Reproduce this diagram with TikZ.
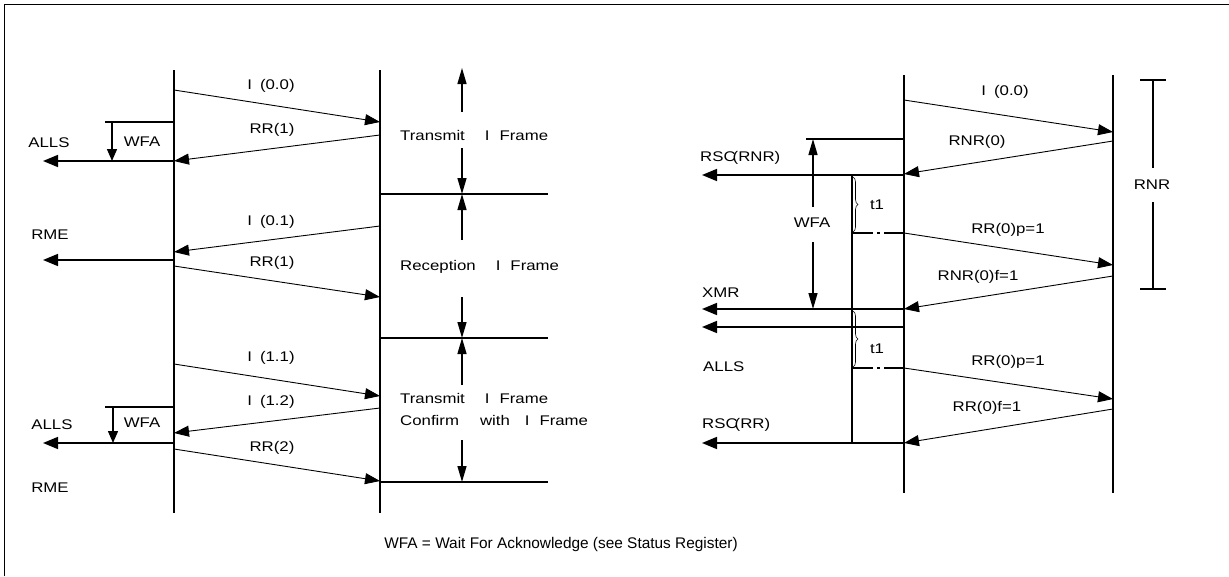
\documentclass[tikz,border=0pt]{standalone}
\usepackage{fontspec}
\setmainfont{Liberation Sans}
\newfontfamily\labf[FakeStretch=1.2]{Liberation Sans}
\usetikzlibrary{arrows.meta,decorations.pathreplacing}
\begin{document}
\begin{tikzpicture}[x=1pt,y=-1pt,
  life/.style={line width=1.6pt},
  msg/.style={line width=0.9pt,-{Triangle[length=15pt,width=11pt]}},
  sig/.style={line width=1.6pt,-{Triangle[length=15pt,width=12pt]}},
  bar/.style={line width=1.4pt},
  varr/.style={line width=1.4pt,-{Triangle[length=16pt,width=9pt]}},
  sarr/.style={line width=1.4pt,-{Triangle[length=12pt,width=10pt]}},
  brc/.style={decorate,decoration={brace,amplitude=5pt},line width=0.6pt},
  dd/.style={line width=1.4pt,dash pattern=on 21pt off 4pt on 3pt off 4pt on 30pt},
  lab/.style={font=\labf\fontsize{14}{16}\selectfont,inner sep=0pt},
  foot/.style={font=\fontsize{15.4}{17}\selectfont,inner sep=0pt},
]
\useasboundingbox (0,0) rectangle (1229,576);
% outer frame
\coordinate (fb) at (4.3,576); \coordinate (ftl) at (4.3,4.3); \coordinate (ftr) at (1229,4.3);
\draw[line width=1pt] (fb) -- (ftl) -- (ftr);

% ---------------- left diagram ----------------
\coordinate (A1) at (174,70); \coordinate (A2) at (174,513);
\coordinate (B1) at (380,70); \coordinate (B2) at (380,513);
\draw[life] (A1) -- (A2);
\draw[life] (B1) -- (B2);

\coordinate (a1) at (174,90);  \coordinate (b1) at (380,122);
\coordinate (b2) at (380,135); \coordinate (a2) at (174,161);
\coordinate (b3) at (380,226); \coordinate (a3) at (174,252);
\coordinate (a4) at (174,266); \coordinate (b4) at (380,297);
\coordinate (a5) at (174,364); \coordinate (b5) at (380,396);
\coordinate (b6) at (380,408); \coordinate (a6) at (174,433);
\coordinate (a7) at (174,449); \coordinate (b7) at (380,481);
\draw[msg] (a1) -- (b1);
\draw[msg] (b2) -- (a2);
\draw[msg] (b3) -- (a3);
\draw[msg] (a4) -- (b4);
\draw[msg] (a5) -- (b5);
\draw[msg] (b6) -- (a6);
\draw[msg] (a7) -- (b7);
\node[lab] (l1) at (271,86) {I\hspace{8pt}(0.0)};
\node[lab] (l2) at (272,130) {RR(1)};
\node[lab] (l3) at (271,222) {I\hspace{8pt}(0.1)};
\node[lab] (l4) at (272,263) {RR(1)};
\node[lab] (l5) at (271,358) {I\hspace{8pt}(1.1)};
\node[lab] (l6) at (271,402) {I\hspace{8pt}(1.2)};
\node[lab] (l7) at (272,448) {RR(2)};

% outputs to the left
\coordinate (s1) at (174,161); \coordinate (t1) at (43,161);
\coordinate (s2) at (174,260); \coordinate (t2) at (43,260);
\coordinate (s3) at (174,443); \coordinate (t3) at (43,443);
\draw[sig] (s1) -- (t1);
\draw[sig] (s2) -- (t2);
\draw[sig] (s3) -- (t3);
\node[lab] (alls1) at (49,143) {ALLS};
\node[lab] (rme1) at (50,235) {RME};
\node[lab] (alls2) at (52,425) {ALLS};
\node[lab] (rme2) at (50,488) {RME};

% WFA markers
\coordinate (w1a) at (105,122); \coordinate (w1b) at (174,122);
\coordinate (w1c) at (112,122); \coordinate (w1d) at (112,161);
\draw[bar] (w1a) -- (w1b);
\draw[sarr] (w1c) -- (w1d);
\node[lab] (wfa1) at (142,142) {WFA};
\coordinate (w2a) at (105,407); \coordinate (w2b) at (174,407);
\coordinate (w2c) at (113,407); \coordinate (w2d) at (113,443);
\draw[bar] (w2a) -- (w2b);
\draw[sarr] (w2c) -- (w2d);
\node[lab] (wfa2) at (142,423) {WFA};

% phase lines and arrows
\coordinate (h1a) at (380,194); \coordinate (h1b) at (548,194);
\coordinate (h2a) at (380,338); \coordinate (h2b) at (548,338);
\coordinate (h3a) at (380,482); \coordinate (h3b) at (548,482);
\draw[bar] (h1a) -- (h1b);
\draw[bar] (h2a) -- (h2b);
\draw[bar] (h3a) -- (h3b);
\coordinate (v0) at (462,68);
\coordinate (v1) at (462,112); \coordinate (v2) at (462,148);
\coordinate (v3) at (462,194);
\coordinate (v4) at (462,240); \coordinate (v5) at (462,297);
\coordinate (v6) at (462,338);
\coordinate (v7) at (462,385); \coordinate (v8) at (462,440);
\coordinate (v9) at (462,482);
\draw[varr] (v1) -- (v0);
\draw[varr] (v2) -- (v3);
\draw[varr] (v4) -- (v3);
\draw[varr] (v5) -- (v6);
\draw[varr] (v7) -- (v6);
\draw[varr] (v8) -- (v9);
\node[lab,anchor=west] (p1) at (400,135) {Transmit\hspace{20pt}I\hspace{10pt}Frame};
\node[lab,anchor=west] (p2) at (400,267) {Reception\hspace{20pt}I\hspace{10pt}Frame};
\node[lab,anchor=west] (p3) at (400,398) {Transmit\hspace{20pt}I\hspace{10pt}Frame};
\node[lab,anchor=west] (p4) at (400,420) {Confirm\hspace{21pt}with\hspace{15pt}I\hspace{10pt}Frame};

% ---------------- right diagram ----------------
\coordinate (C1) at (904,75);  \coordinate (C2) at (904,493);
\coordinate (D1) at (1113,75); \coordinate (D2) at (1113,493);
\draw[life] (C1) -- (C2);
\draw[life] (D1) -- (D2);

\coordinate (c1) at (904,100);  \coordinate (d1) at (1113,132);
\coordinate (d2) at (1113,141); \coordinate (c2) at (904,174);
\coordinate (c3) at (904,233);  \coordinate (d3) at (1113,265);
\coordinate (d4) at (1113,276); \coordinate (c4) at (904,309);
\coordinate (c5) at (904,368);  \coordinate (d5) at (1113,399);
\coordinate (d6) at (1113,409); \coordinate (c6) at (904,443);
\draw[msg] (c1) -- (d1);
\draw[msg] (d2) -- (c2);
\draw[msg] (c3) -- (d3);
\draw[msg] (d4) -- (c4);
\draw[msg] (c5) -- (d5);
\draw[msg] (d6) -- (c6);
\node[lab] (r1) at (1005,92) {I\hspace{8pt}(0.0)};
\node[lab] (r2) at (977,142) {RNR(0)};
\node[lab] (r3) at (1008,230) {RR(0)p=1};
\node[lab] (r4) at (978,277) {RNR(0)f=1};
\node[lab] (r5) at (1008,362) {RR(0)p=1};
\node[lab] (r6) at (987,408) {RR(0)f=1};

% outputs to the left
\coordinate (u1) at (904,175); \coordinate (x1) at (702,175);
\coordinate (u2) at (904,309); \coordinate (x2) at (702,309);
\coordinate (u3) at (904,327); \coordinate (x3) at (702,327);
\coordinate (u4) at (904,443); \coordinate (x4) at (702,443);
\draw[sig] (u1) -- (x1);
\draw[sig] (u2) -- (x2);
\draw[sig] (u3) -- (x3);
\draw[sig] (u4) -- (x4);
\node[lab,anchor=west] (rsc1) at (700,158) {RSC\kern-3pt(RNR)};
\node[lab,anchor=west] (xmr) at (702,293) {XMR};
\node[lab,anchor=west] (alls3) at (703,367) {ALLS};
\node[lab,anchor=west] (rsc2) at (702,425) {RSC\kern-3pt(RR)};

% WFA on right
\coordinate (tb1) at (806,139); \coordinate (tb2) at (904,139);
\draw[bar] (tb1) -- (tb2);
\coordinate (wa) at (813,207); \coordinate (wb) at (813,139);
\coordinate (wc) at (813,242); \coordinate (wd) at (813,309);
\draw[varr] (wa) -- (wb);
\draw[varr] (wc) -- (wd);
\node[lab] (wfa3) at (812,223) {WFA};

% inner timer line and braces
\coordinate (i1) at (852,175); \coordinate (i2) at (852,443);
\draw[bar] (i1) -- (i2);
\coordinate (br1a) at (853,177); \coordinate (br1b) at (853,232);
\draw[brc] (br1a) -- (br1b);
\node[lab] (tt1) at (877,205) {t1};
\coordinate (br2a) at (853,311); \coordinate (br2b) at (853,367);
\draw[brc] (br2a) -- (br2b);
\node[lab] (tt2) at (877,349) {t1};
\coordinate (dd1a) at (852,233); \coordinate (dd1b) at (904,233);
\coordinate (dd2a) at (852,368); \coordinate (dd2b) at (904,368);
\draw[dd] (dd1a) -- (dd1b);
\draw[dd] (dd2a) -- (dd2b);

% RNR range
\coordinate (q1) at (1140,80);  \coordinate (q2) at (1166,80);
\coordinate (q3) at (1140,289); \coordinate (q4) at (1166,289);
\coordinate (q5) at (1153,80);  \coordinate (q6) at (1153,168);
\coordinate (q7) at (1153,202); \coordinate (q8) at (1153,289);
\draw[bar] (q1) -- (q2);
\draw[bar] (q3) -- (q4);
\draw[bar] (q5) -- (q6);
\draw[bar] (q7) -- (q8);
\node[lab] (rnr) at (1152,185) {RNR};

% footnote
\node[foot] (fn) at (561,545) {WFA = Wait For Acknowledge (see Status Register)};
\end{tikzpicture}
\end{document}
